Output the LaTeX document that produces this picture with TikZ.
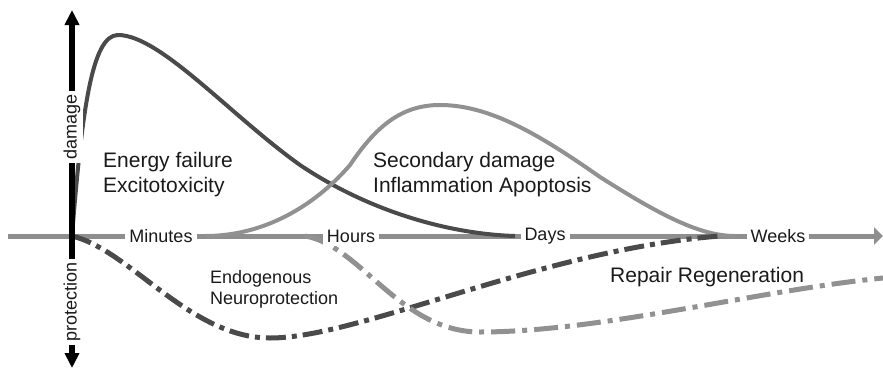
\documentclass[tikz,border=0pt]{standalone}
\usepackage{fontspec}
\setmainfont{Liberation Sans}
\usepackage{xcolor}
\usetikzlibrary{arrows.meta}

\definecolor{axisgray}{HTML}{8E8E8E}
\definecolor{darkcurve}{HTML}{4A4A4A}
\definecolor{lightcurve}{HTML}{919191}
\definecolor{txt}{HTML}{1A1A1A}

\begin{document}
\begin{tikzpicture}[x=1pt,y=-1pt,
timeaxis/.style={draw=axisgray, line width=5pt, -{Triangle[length=9pt,width=17pt]}},
sideaxis/.style={draw=black, line width=5.5pt, {Triangle[length=15pt,width=14pt]}-{Triangle[length=15pt,width=14pt]}},
tick/.style={fill=white, inner sep=4pt, text=txt, font=\fontsize{18}{20}\selectfont},
sidelabel/.style={fill=white, inner sep=3pt, rotate=90, text=txt, font=\fontsize{18}{20}\selectfont},
phase/.style={align=left, anchor=base west, inner sep=0pt, text=txt, font=\fontsize{21}{24.4}\selectfont},
smallphase/.style={align=left, anchor=base west, inner sep=0pt, text=txt, font=\fontsize{18}{21}\selectfont},
primary/.style={draw=darkcurve, line width=4pt},
secondary/.style={draw=lightcurve, line width=4pt},
protect/.style={draw=darkcurve, line width=5pt, dash pattern=on 20pt off 6pt on 5pt off 6pt},
repair/.style={draw=lightcurve, line width=5pt, dash pattern=on 24pt off 7pt on 5pt off 7pt}
]
\useasboundingbox (0,0) rectangle (883,370);

\coordinate (o) at (72,236);
\coordinate (tstart) at (8,236);
\coordinate (tend) at (883,236);
\coordinate (vtop) at (72,10);
\coordinate (vbot) at (72,368);

\draw[timeaxis] (tstart) -- (tend);

\draw[primary] (o) .. controls (82,110) and (92,35) .. (118,35)
  .. controls (160,35) and (230,115) .. (300,165)
  .. controls (370,212) and (450,234) .. (515,236);
\draw[secondary] (205,236) .. controls (270,236) and (320,200) .. (350,165)
  .. controls (375,128) and (400,105) .. (440,105)
  .. controls (490,105) and (540,135) .. (600,177)
  .. controls (660,215) and (700,236) .. (735,236);
\draw[protect] (o) .. controls (130,250) and (190,338) .. (270,338)
  .. controls (360,338) and (540,250) .. (720,236);
\draw[repair] (305,236) .. controls (360,245) and (400,332) .. (480,332)
  .. controls (600,332) and (760,290) .. (883,278);

\draw[sideaxis] (vbot) -- (vtop);
\node[sidelabel] (dmg) at (72,127) {damage};
\node[sidelabel] (prot) at (72,302) {protection};

\node[tick] (minutes) at (161,236) {Minutes};
\node[tick] (hours) at (351,236) {Hours};
\node[tick] (days) at (545,236) {Days};
\node[tick] (weeks) at (778,236) {Weeks};

\node[phase] (energy) at (103,192) {Energy failure\\Excitotoxicity};
\node[phase] (second) at (373,192) {Secondary damage\\Inflammation Apoptosis};
\node[smallphase] (endo) at (210,304) {Endogenous\\Neuroprotection};
\node[phase] (regen) at (610,282) {Repair Regeneration};
\end{tikzpicture}
\end{document}
